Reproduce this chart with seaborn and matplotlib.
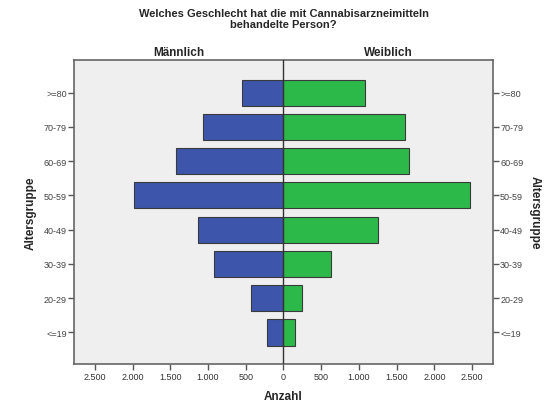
"""
Bevölkerungspyramide: Cannabisarzneimittel nach Geschlecht und Altersgruppe.
"""
import matplotlib
matplotlib.use("Agg")
import matplotlib.pyplot as plt
from matplotlib.ticker import FuncFormatter
import pandas as pd
import seaborn as sns

altersgruppen = [">=80", "70-79", "60-69", "50-59", "40-49", "30-39", "20-29", "<=19"]
maennlich = [552, 1062, 1429, 1984, 1128, 922, 432, 216]
weiblich = [1085, 1605, 1663, 2474, 1257, 631, 247, 146]
xticks = [-2500, -2000, -1500, -1000, -500, 0, 500, 1000, 1500, 2000, 2500]

BLUE = "#3d56ab"
GREEN = "#2db84a"
EDGE = "#3a3a3a"
GREY = "#555555"

sns.set_theme(style="white")
plt.rcParams["font.family"] = ["Liberation Sans", "DejaVu Sans"]

df = pd.DataFrame({
    "Altersgruppe": altersgruppen,
    "Männlich": [-v for v in maennlich],
    "Weiblich": weiblich,
})

fig = plt.figure(figsize=(5.51, 4.02), dpi=100)
ax = fig.add_axes([0.134, 0.092, 0.761, 0.756])
ax.set_facecolor("#efefef")

sns.barplot(data=df, y="Altersgruppe", x="Männlich", order=altersgruppen, color=BLUE,
            saturation=1, width=0.76, edgecolor=EDGE, linewidth=0.8, ax=ax)
sns.barplot(data=df, y="Altersgruppe", x="Weiblich", order=altersgruppen, color=GREEN,
            saturation=1, width=0.76, edgecolor=EDGE, linewidth=0.8, ax=ax)

ax.axvline(0, color="#333333", lw=1, zorder=5)
ax.set_xlim(-2780, 2780)
ax.set_ylim(7.92, -0.95)

ax.set_xticks(xticks)
ax.xaxis.set_major_formatter(FuncFormatter(lambda v, p: f"{abs(int(v)):,}".replace(",", ".")))
ax.tick_params(axis="x", bottom=True, length=4, width=1, color=GREY, labelsize=6.5,
               labelcolor="#333333", pad=2)
ax.tick_params(axis="y", left=True, right=True, labelleft=True, labelright=True,
               length=4, width=1, color=GREY, labelsize=6.5, labelcolor="#444444", pad=1)

for s in ax.spines.values():
    s.set_color("#666666")
    s.set_linewidth(1.2)

ax.set_xlabel("Anzahl", fontsize=8.5, fontweight="bold", labelpad=6)
ax.set_ylabel("Altersgruppe", fontsize=8.5, fontweight="bold", labelpad=5)
ax.text(1.1, 0.5, "Altersgruppe", transform=ax.transAxes, rotation=270,
        ha="center", va="center", fontsize=8.5, fontweight="bold")

fig.text(0.515, 0.978, "Welches Geschlecht hat die mit Cannabisarzneimitteln\nbehandelte Person?",
         ha="center", va="top", fontsize=8, fontweight="bold", linespacing=1.2)
fig.text(179 / 551, 1 - 53 / 402, "Männlich", ha="center", va="center", fontsize=8.5, fontweight="bold")
fig.text(388 / 551, 1 - 53 / 402, "Weiblich", ha="center", va="center", fontsize=8.5, fontweight="bold")

fig.savefig("out.png", dpi=100, facecolor="white")
